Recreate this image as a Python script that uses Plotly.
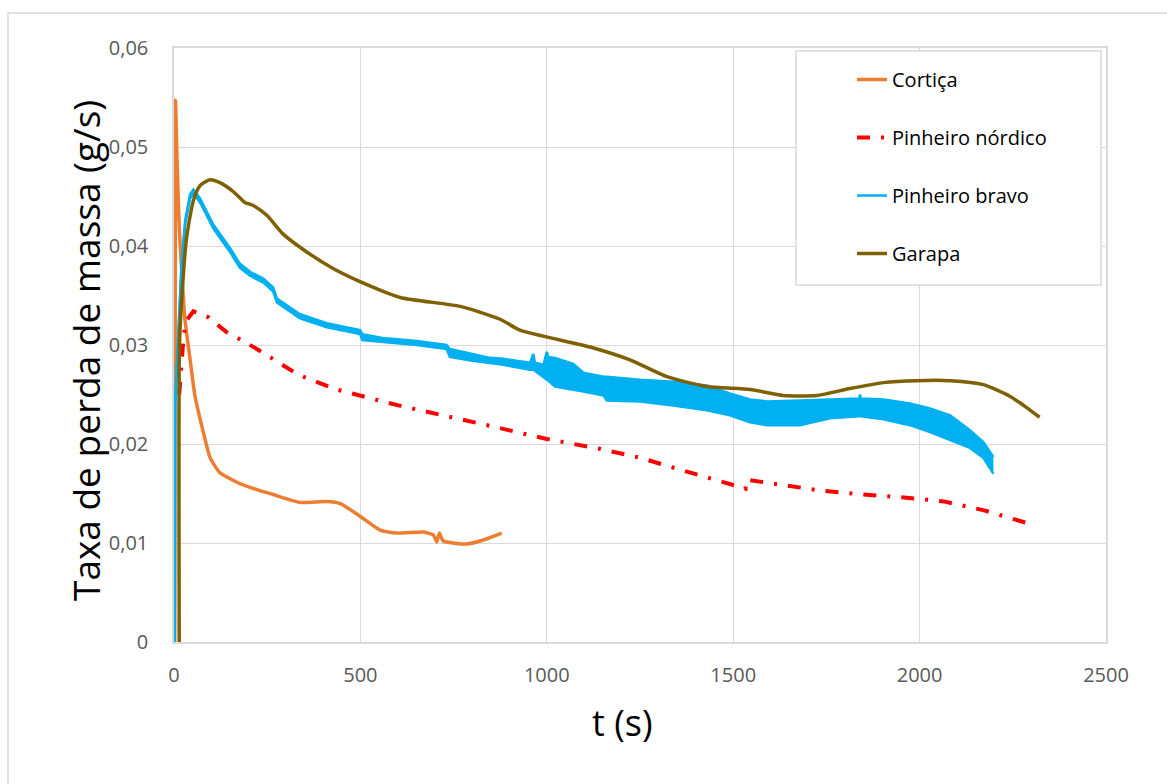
import plotly.graph_objects as go

# ---- data: mass-loss rate (g/s) versus time (s) ----
cortica_t = [2, 4, 8, 14, 20, 29, 43, 56, 74, 97, 123, 177, 222, 266, 338, 410, 445,
             499, 553, 597, 669, 696, 705, 712, 722, 785, 830, 879]
cortica_v = [0.0, 0.0547, 0.049, 0.042, 0.0379, 0.0327, 0.0286, 0.0249, 0.0219, 0.0186,
             0.0171, 0.0160, 0.0154, 0.0149, 0.0141, 0.0142, 0.0140, 0.0127, 0.0113,
             0.0110, 0.0111, 0.0108, 0.0101, 0.0110, 0.0102, 0.0099, 0.0103, 0.0110]

nordico_t = [14, 20, 26, 34, 52, 70, 92, 141, 186, 240, 333, 436, 602, 875, 1000, 1144,
             1251, 1358, 1466, 1533, 1535, 1627, 1734, 1846, 1958, 2065, 2173, 2244, 2290]
nordico_v = [0.0250, 0.0285, 0.0310, 0.0325, 0.0334, 0.0332, 0.0328, 0.0313, 0.0304,
             0.0292, 0.0270, 0.0255, 0.0239, 0.0216, 0.0205, 0.0195, 0.0186, 0.0174,
             0.0162, 0.0155, 0.0164, 0.0159, 0.0153, 0.0149, 0.0146, 0.0142, 0.0133,
             0.0125, 0.0120]

# Pinheiro bravo is a noisy signal: drawn as the band between its upper and lower envelope
bravo_t = [2, 3, 11, 20, 30, 43, 52, 70, 105, 150, 177, 204, 240, 266, 276, 338, 410,
           499, 505, 560, 651, 731, 740, 800, 848, 883, 955, 964, 968, 991, 1000, 1004,
           1022, 1071, 1098, 1152, 1161, 1250, 1339, 1429, 1491, 1545, 1590, 1679, 1760,
           1838, 1840, 1842, 1903, 1974, 2028, 2082, 2135, 2171, 2198]
bravo_hi = [0.0, 0.0242, 0.0307, 0.0381, 0.0426, 0.0452, 0.0457, 0.0448, 0.0422, 0.0398,
            0.0382, 0.0374, 0.0367, 0.0358, 0.0347, 0.0331, 0.0322, 0.0315, 0.0311,
            0.0307, 0.0304, 0.0300, 0.0296, 0.0291, 0.0287, 0.0286, 0.0282, 0.0291,
            0.0282, 0.0280, 0.0293, 0.0288, 0.0287, 0.0281, 0.0272, 0.0268, 0.0268,
            0.0265, 0.0263, 0.0259, 0.0251, 0.0245, 0.0243, 0.0244, 0.0245, 0.0246,
            0.0250, 0.0246, 0.0245, 0.0241, 0.0236, 0.0229, 0.0214, 0.0202, 0.0187]
bravo_lo = [0.0, 0.0238, 0.0303, 0.0377, 0.0422, 0.0448, 0.0453, 0.0444, 0.0418, 0.0394,
            0.0378, 0.0370, 0.0363, 0.0354, 0.0343, 0.0327, 0.0318, 0.0311, 0.0305,
            0.0303, 0.0300, 0.0296, 0.0288, 0.0284, 0.0282, 0.0280, 0.0275, 0.0275,
            0.0274, 0.0268, 0.0265, 0.0264, 0.0258, 0.0255, 0.0253, 0.0249, 0.0244,
            0.0243, 0.0239, 0.0234, 0.0229, 0.0222, 0.0219, 0.0219, 0.0226, 0.0228,
            0.0228, 0.0228, 0.0225, 0.0219, 0.0212, 0.0204, 0.0196, 0.0186, 0.0170]

garapa_t = [14, 14.5, 20, 34, 52, 70, 97, 123, 159, 190, 205, 217, 249, 293, 356, 428,
            499, 607, 768, 875, 928, 1116, 1223, 1322, 1429, 1545, 1634, 1724, 1813,
            1903, 1992, 2082, 2171, 2243, 2290, 2322]
garapa_v = [0.0, 0.0297, 0.0342, 0.0409, 0.0446, 0.0461, 0.0467, 0.0464, 0.0455, 0.0444,
            0.0442, 0.0440, 0.0431, 0.0412, 0.0394, 0.0377, 0.0364, 0.0348, 0.0339,
            0.0326, 0.0315, 0.0298, 0.0285, 0.0268, 0.0258, 0.0255, 0.0249, 0.0249,
            0.0256, 0.0262, 0.0264, 0.0264, 0.0260, 0.0248, 0.0236, 0.0227]

x_ticks = [0, 500, 1000, 1500, 2000, 2500]
y_ticks = [0, 0.01, 0.02, 0.03, 0.04, 0.05, 0.06]
y_tick_text = ["0", "0,01", "0,02", "0,03", "0,04", "0,05", "0,06"]

ORANGE = "#ED7D31"
RED = "#FF0000"
BLUE = "#00B0F0"
BROWN = "#7F6000"
GRID = "#D9D9D9"
FONT = "Open Sans"

fig = go.Figure()

fig.add_trace(go.Scatter(x=cortica_t, y=cortica_v, mode="lines", name="Cortiça",
                         line=dict(color=ORANGE, width=3.5, shape="spline", smoothing=0.5),
                         legendgroup="a"))
fig.add_trace(go.Scatter(x=nordico_t, y=nordico_v, mode="lines", name="Pinheiro nórdico",
                         line=dict(color=RED, width=4, dash="13px,11px,3px,11px"),
                         legendgroup="b"))
fig.add_trace(go.Scatter(x=bravo_t, y=bravo_hi, mode="lines", name="Pinheiro bravo",
                         line=dict(color=BLUE, width=2.5), legendgroup="c"))
fig.add_trace(go.Scatter(x=bravo_t, y=bravo_lo, mode="lines", name="Pinheiro bravo",
                         line=dict(color=BLUE, width=2.5), fill="tonexty", fillcolor=BLUE,
                         legendgroup="c", showlegend=False))
fig.add_trace(go.Scatter(x=garapa_t, y=garapa_v, mode="lines", name="Garapa",
                         line=dict(color=BROWN, width=3.5, shape="spline", smoothing=0.6),
                         legendgroup="d"))

# plot area spans 174..1106 px horizontally and 48..642 px vertically
W, H = 1167, 784
L, R, T, B = 174, 1106, 48, 642


def px_x(p):
    return (p - L) / (R - L)


def px_y(p):
    return (B - p) / (B - T)


fig.update_layout(
    width=W, height=H,
    margin=dict(l=L, r=W - R, t=T, b=H - B, pad=0),
    paper_bgcolor="white", plot_bgcolor="white",
    font=dict(family=FONT, color="#595959", size=20),
    showlegend=True,
    legend=dict(x=px_x(852), y=px_y(60), xanchor="left", yanchor="top",
                bgcolor="rgba(0,0,0,0)", borderwidth=0,
                font=dict(family=FONT, size=20, color="#000000"),
                tracegroupgap=29, traceorder="grouped", itemwidth=30),
    xaxis=dict(range=[0, 2500], tickvals=x_ticks, showgrid=True, gridcolor=GRID,
               gridwidth=1, zeroline=False, showline=True, linecolor=GRID, linewidth=1.5,
               mirror=True, ticks="", ticklabelstandoff=14,
               tickfont=dict(size=20, color="#595959")),
    yaxis=dict(range=[0, 0.06], tickvals=y_ticks, ticktext=y_tick_text, showgrid=True,
               gridcolor=GRID, gridwidth=1, zeroline=False, showline=True, linecolor=GRID,
               linewidth=1.5, mirror=True, ticks="", ticklabelstandoff=20,
               tickfont=dict(size=20, color="#595959")),
    shapes=[
        # outer chart frame
        dict(type="rect", xref="paper", yref="paper",
             x0=px_x(8), x1=px_x(1175), y0=px_y(795), y1=px_y(13),
             line=dict(color=GRID, width=1.5), fillcolor="rgba(0,0,0,0)", layer="below"),
        # legend box
        dict(type="rect", xref="paper", yref="paper",
             x0=px_x(796), x1=px_x(1101), y0=px_y(285), y1=px_y(51),
             line=dict(color=GRID, width=1.5), fillcolor="white", layer="above"),
    ],
    annotations=[
        dict(text="Taxa de perda de massa (g/s)", xref="paper", yref="paper",
             x=px_x(85), y=px_y(351), xanchor="center", yanchor="middle",
             textangle=-90, showarrow=False,
             font=dict(family=FONT, size=37, color="#000000")),
        dict(text="t (s)", xref="paper", yref="paper",
             x=px_x(622), y=px_y(722), xanchor="center", yanchor="middle",
             showarrow=False, font=dict(family=FONT, size=36, color="#000000")),
    ],
)

fig.write_html("out.html")
